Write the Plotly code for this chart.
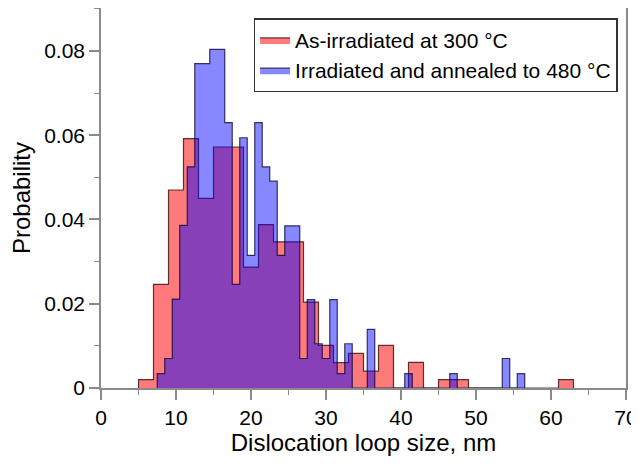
import plotly.graph_objects as go

# As-irradiated at 300 °C (2 nm bins)
red_edges = [5, 7, 9, 11, 13, 15, 19, 21, 23, 27, 29, 31, 33, 35, 37, 39, 41, 43, 45, 49, 61, 63]
red_vals = [0.002, 0.0246, 0.047, 0.0592, 0.045, 0.0572, 0.0287, 0.0388, 0.0347, 0.0204,
            0.0101, 0.006, 0.0082, 0.004, 0.0101, 0.0, 0.0061, 0.0, 0.002, 0.0, 0.002]

# Irradiated and annealed to 480 °C (1 nm bins)
blue_edges = [7.5, 8.5, 9.5, 10.5, 11.5, 12.5, 14.5, 16.5, 17.5, 18.5, 19.5, 20.5, 21.5, 22.5,
              23.5, 24.5, 26.5, 27.5, 28.5, 29.5, 30.5, 31.5, 32.5, 33.5, 35.5, 36.5, 40.5,
              41.5, 46.5, 47.5, 53.5, 54.5, 55.5, 56.5]
blue_vals = [0.0034, 0.007, 0.0211, 0.0386, 0.0525, 0.077, 0.0804, 0.063, 0.0246, 0.0594,
             0.0315, 0.063, 0.0525, 0.0491, 0.0315, 0.0385, 0.007, 0.021, 0.0105, 0.007,
             0.021, 0.0034, 0.0105, 0.0, 0.0139, 0.0, 0.0034, 0.0, 0.0034, 0.0, 0.007,
             0.0, 0.0034]

x_ticks = [0, 10, 20, 30, 40, 50, 60, 70]
y_ticks = [0, 0.02, 0.04, 0.06, 0.08]
y_ticktext = ["0", "0.02", "0.04", "0.06", "0.08"]


def step_xy(edges, vals):
    xs = [edges[0]] + list(edges)
    ys = [0] + list(vals) + [0]
    return xs, ys


fig = go.Figure()
rx, ry = step_xy(red_edges, red_vals)
bx, by = step_xy(blue_edges, blue_vals)

fig.add_trace(go.Scatter(
    x=rx, y=ry, mode="lines", line_shape="hv",
    line=dict(color="rgba(40,0,0,0.75)", width=1.2),
    fill="tozeroy", fillcolor="rgba(255,0,0,0.52)",
    name="As-irradiated at 300 °C"))
fig.add_trace(go.Scatter(
    x=bx, y=by, mode="lines", line_shape="hv",
    line=dict(color="rgba(0,0,50,0.75)", width=1.2),
    fill="tozeroy", fillcolor="rgba(0,0,255,0.47)",
    name="Irradiated and annealed to 480 °C"))

font_family = "Liberation Sans, Arial, sans-serif"
axis_col = "#8a8a8a"

# the page body adds an 8 px offset, so the figure is sized to fit the window
fig.update_layout(
    width=631, height=453,
    margin=dict(l=93, r=13, t=0, b=73, autoexpand=False),
    paper_bgcolor="white", plot_bgcolor="white",
    font=dict(family=font_family, size=20, color="black"),
    showlegend=True,
    legend=dict(x=0.984, y=0.973, xanchor="right", yanchor="top",
                bordercolor="#333333", borderwidth=1.5, bgcolor="white",
                font=dict(size=21), tracegroupgap=0, itemwidth=30),
    xaxis=dict(range=[0, 70], tickvals=x_ticks, ticks="outside", ticklen=10,
               tickwidth=1.5, tickcolor=axis_col, showline=True, linecolor=axis_col,
               linewidth=1.5, mirror=True, showgrid=False, zeroline=False,
               automargin=False, tickfont=dict(size=21),
               minor=dict(dtick=5, ticks="outside", ticklen=5, tickcolor=axis_col,
                          tickwidth=1.2, showgrid=False),
               title=dict(text="Dislocation loop size, nm", font=dict(size=24), standoff=0)),
    yaxis=dict(range=[0, 0.0902], tickvals=y_ticks, ticktext=y_ticktext,
               ticks="outside", ticklen=10, tickwidth=1.5, tickcolor=axis_col,
               showline=True, linecolor=axis_col, linewidth=1.5, mirror=True,
               showgrid=False, zeroline=False, automargin=False, tickfont=dict(size=21),
               minor=dict(dtick=0.01, ticks="outside", ticklen=5, tickcolor=axis_col,
                          tickwidth=1.2, showgrid=False),
               title=dict(text="Probability", font=dict(size=24), standoff=8)),
)

fig.write_html("out.html")
